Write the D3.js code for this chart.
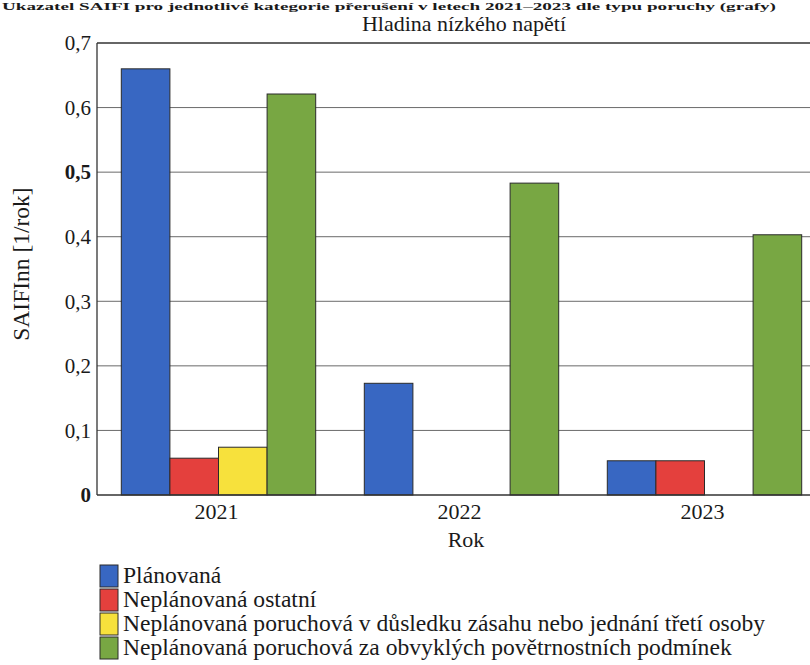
<!DOCTYPE html>
<html><head><meta charset="utf-8">
<script src="https://cdn.jsdelivr.net/npm/d3@7"></script>
<style>body{margin:0;background:#fff}svg{display:block}</style>
</head><body>
<script>
const years = ["2021", "2022", "2023"];
const seriesNames = [
  "Plánovaná",
  "Neplánovaná ostatní",
  "Neplánovaná poruchová v důsledku zásahu nebo jednání třetí osoby",
  "Neplánovaná poruchová za obvyklých povětrnostních podmínek"
];
const planovana = [0.660, 0.173, 0.053];
const neplOstatni = [0.057, 0.0, 0.053];
const neplTretiOsoba = [0.074, 0.0, 0.0];
const neplPocasi = [0.621, 0.483, 0.403];
const seriesColors = ["#3867c2", "#e4403d", "#f7e13c", "#78a743"];
const yTicks = [0, 0.1, 0.2, 0.3, 0.4, 0.5, 0.6, 0.7];
const boldTicks = [0, 0.5];
const topTitle = "Ukazatel SAIFI pro jednotlivé kategorie přerušení v letech 2021–2023 dle typu poruchy (grafy)";
const subTitle = "Hladina nízkého napětí";
const xTitle = "Rok";
const yTitle = "SAIFInn [1/rok]";

const seriesValues = [planovana, neplOstatni, neplTretiOsoba, neplPocasi];
const W = 810, H = 665;
const FONT = "'Liberation Serif', 'DejaVu Serif', serif";
const svg = d3.select("body").append("svg").attr("width", W).attr("height", H)
  .attr("font-family", FONT).style("font-family", FONT);
svg.append("rect").attr("width", W).attr("height", H).attr("fill", "#fff");

const x0 = d3.scaleBand().domain(years).range([97, 826]).paddingInner(0.2).paddingOuter(0.1);
const x1 = d3.scaleBand().domain(d3.range(seriesNames.length)).range([0, x0.bandwidth()]);
const y = d3.scaleLinear().domain([0, 0.7]).range([495, 43]);
const loc = d3.formatLocale({decimal: ",", thousands: " ", grouping: [3], currency: ["", ""]});
const fmt = v => v === 0 ? "0" : loc.format(".1f")(v);
const txt = sel => sel.attr("font-family", FONT).attr("fill", "#1a1a1a");

// gridlines
svg.append("g").selectAll("line").data(yTicks.filter(t => t > 0)).join("line")
  .attr("x1", 97).attr("x2", W).attr("y1", d => y(d)).attr("y2", d => y(d))
  .attr("stroke", d => d === 0.7 ? "#333" : "#6a6a6a").attr("stroke-width", d => d === 0.7 ? 1.3 : 1);

// bars
const groups = svg.append("g").selectAll("g").data(years).join("g")
  .attr("transform", d => `translate(${x0(d)},0)`);
groups.selectAll("rect").data((d, i) => seriesValues.map((s, k) => ({k, v: s[i]}))).join("rect")
  .attr("x", d => x1(d.k)).attr("width", x1.bandwidth())
  .attr("y", d => y(d.v)).attr("height", d => y(0) - y(d.v))
  .attr("fill", d => seriesColors[d.k]).attr("stroke", "#2a2a2a").attr("stroke-width", 1);

// axes lines
svg.append("line").attr("x1", 97).attr("x2", 97).attr("y1", y(0.7)).attr("y2", y(0)).attr("stroke", "#333").attr("stroke-width", 1.3);
svg.append("line").attr("x1", 97).attr("x2", W).attr("y1", y(0)).attr("y2", y(0)).attr("stroke", "#333").attr("stroke-width", 1.5);

// y tick labels
svg.append("g").selectAll("text").data(yTicks).join("text").call(txt)
  .attr("x", 91).attr("y", d => y(d)).attr("dy", "0.35em").attr("text-anchor", "end")
  .attr("font-size", 21).attr("font-weight", d => boldTicks.includes(d) ? "bold" : "normal")
  .text(fmt);

// x tick labels
svg.append("g").selectAll("text").data(years).join("text").call(txt)
  .attr("x", d => x0(d) + x0.bandwidth() / 2 - 2).attr("y", 519).attr("text-anchor", "middle")
  .attr("font-size", 22).text(d => d);

svg.append("text").call(txt).attr("x", 466).attr("y", 547).attr("text-anchor", "middle").attr("font-size", 22).text(xTitle);
svg.append("text").call(txt).attr("transform", "translate(29,264) rotate(-90)").attr("text-anchor", "middle").attr("font-size", 23.5).text(yTitle);
svg.append("text").call(txt).attr("x", 464).attr("y", 31).attr("text-anchor", "middle").attr("font-size", 22).text(subTitle);
svg.append("text").call(txt).attr("x", 2).attr("y", 10).attr("font-size", 11).attr("font-weight", "bold")
  .attr("textLength", 774).attr("lengthAdjust", "spacingAndGlyphs").text(topTitle);

// legend
const leg = svg.append("g").selectAll("g").data(seriesNames).join("g")
  .attr("transform", (d, i) => `translate(100,${565 + i * 24})`);
leg.append("rect").attr("width", 18).attr("height", 22).attr("fill", (d, i) => seriesColors[i]).attr("stroke", "#2a2a2a").attr("stroke-width", 1);
leg.append("text").call(txt).attr("x", 23).attr("y", 18).attr("font-size", 23.6).text(d => d);
</script>
</body></html>
